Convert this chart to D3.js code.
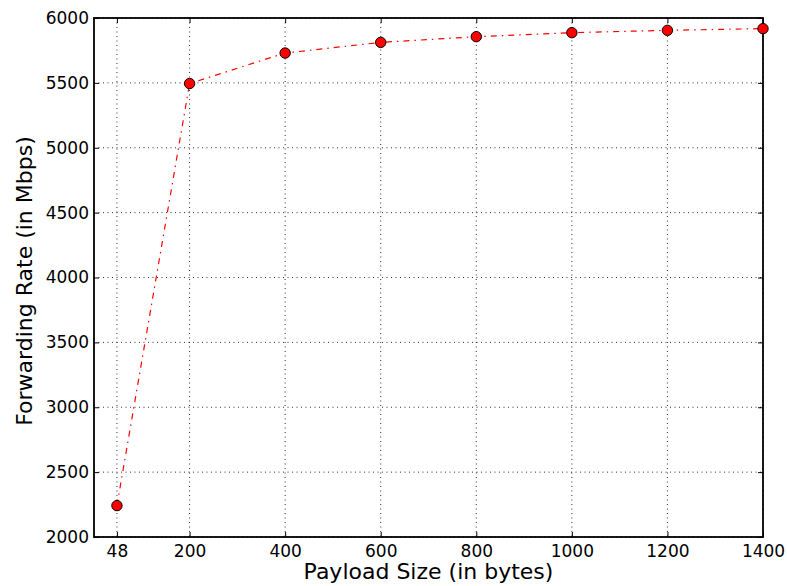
<!DOCTYPE html>
<html>
<head>
<meta charset="utf-8">
<script src="https://cdn.jsdelivr.net/npm/d3@7"></script>
<style>
  html, body { margin: 0; padding: 0; background: #fff; }
  text { font-family: "DejaVu Sans", sans-serif; fill: #000; }
</style>
</head>
<body>
<svg id="chart" width="787" height="586"></svg>
<script>
// Forwarding rate measured for each payload size
const payloadSizes = [48, 200, 400, 600, 800, 1000, 1200, 1400];
const forwardingRates = [2242, 5495, 5730, 5812, 5856, 5887, 5905, 5918];
const xTickValues = [48, 200, 400, 600, 800, 1000, 1200, 1400];
const yTickValues = [2000, 2500, 3000, 3500, 4000, 4500, 5000, 5500, 6000];

const svg = d3.select("#chart");
const margin = { left: 94, right: 24, top: 18, bottom: 49 };
const W = 787, H = 586;
const iw = W - margin.left - margin.right;
const ih = H - margin.top - margin.bottom;

const x = d3.scaleLinear().domain([0, 1400]).range([margin.left, margin.left + iw]);
const y = d3.scaleLinear().domain([2000, 6000]).range([margin.top + ih, margin.top]);

// dotted grid
const grid = svg.append("g");
grid.selectAll("line.gx").data(xTickValues).join("line")
  .attr("x1", d => x(d)).attr("x2", d => x(d))
  .attr("y1", margin.top).attr("y2", margin.top + ih)
  .attr("stroke", "#000").attr("stroke-width", 1)
  .attr("stroke-dasharray", "1,3.5").attr("opacity", 0.8);
grid.selectAll("line.gy").data(yTickValues).join("line")
  .attr("x1", margin.left).attr("x2", margin.left + iw)
  .attr("y1", d => y(d)).attr("y2", d => y(d))
  .attr("stroke", "#000").attr("stroke-width", 1)
  .attr("stroke-dasharray", "1,3.5").attr("opacity", 0.8);

// axes with inward ticks on all four sides
function styleAxis(g) {
  g.select(".domain").remove();
  g.selectAll(".tick line").attr("stroke", "#000").attr("stroke-width", 1);
  g.selectAll(".tick text").style("font-size", "17px").style("font-family", "DejaVu Sans, sans-serif");
}
svg.append("g").attr("transform", `translate(0,${margin.top + ih})`)
  .call(d3.axisBottom(x).tickValues(xTickValues).tickFormat(d3.format("d")).tickSizeInner(-5).tickSizeOuter(0).tickPadding(8))
  .call(styleAxis);
svg.append("g").attr("transform", `translate(0,${margin.top})`)
  .call(d3.axisTop(x).tickValues(xTickValues).tickFormat("").tickSizeInner(-5).tickSizeOuter(0))
  .call(styleAxis);
svg.append("g").attr("transform", `translate(${margin.left},0)`)
  .call(d3.axisLeft(y).tickValues(yTickValues).tickFormat(d3.format("d")).tickSizeInner(-5).tickSizeOuter(0).tickPadding(5))
  .call(styleAxis);
svg.append("g").attr("transform", `translate(${margin.left + iw},0)`)
  .call(d3.axisRight(y).tickValues(yTickValues).tickFormat("").tickSizeInner(-5).tickSizeOuter(0))
  .call(styleAxis);

// dash-dot series line
const line = d3.line().x((d, i) => x(payloadSizes[i])).y(d => y(d));
svg.append("path").datum(forwardingRates)
  .attr("d", line).attr("fill", "none")
  .attr("stroke", "#ff0000").attr("stroke-width", 1.2)
  .attr("stroke-dasharray", "6,5,1.5,5");

// frame
svg.append("rect")
  .attr("x", margin.left).attr("y", margin.top)
  .attr("width", iw).attr("height", ih)
  .attr("fill", "none").attr("stroke", "#000").attr("stroke-width", 1.8);

// markers
svg.selectAll("circle.pt").data(forwardingRates).join("circle")
  .attr("cx", (d, i) => x(payloadSizes[i])).attr("cy", d => y(d))
  .attr("r", 5.2).attr("fill", "#ff0000").attr("stroke", "#000").attr("stroke-width", 1);

// axis titles
svg.append("text").attr("x", margin.left + iw / 2).attr("y", 579)
  .attr("text-anchor", "middle").style("font-size", "22px").text("Payload Size (in bytes)");
svg.append("text").attr("transform", `translate(32,281) rotate(-90)`)
  .attr("text-anchor", "middle").style("font-size", "22px").text("Forwarding Rate (in Mbps)");
</script>
</body>
</html>
